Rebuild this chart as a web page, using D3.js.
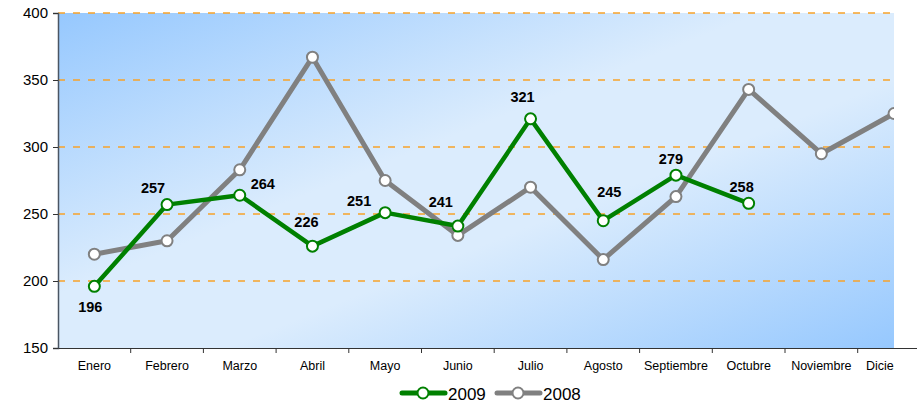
<!DOCTYPE html>
<html><head><meta charset="utf-8">
<script src="https://cdn.jsdelivr.net/npm/d3@7"></script>
<style>body{margin:0;background:#fff;} svg{display:block;font-family:"Liberation Sans",Arial,sans-serif;}</style>
</head><body>
<svg id="c" width="917" height="408"></svg>
<script>
const categories = ["Enero","Febrero","Marzo","Abril","Mayo","Junio","Julio","Agosto","Septiembre","Octubre","Noviembre","Diciembre"];
const values2009 = [196,257,264,226,251,241,321,245,279,258];
const values2008 = [220,230,283,367,275,234,270,216,263,343,295,325];
const yTicks = [150,200,250,300,350,400];
const seriesNames = ["2009","2008"];
// label nudges (layout only), in px relative to point
const labelNudge = [[-4,21],[-14,-17],[23,-11],[-6,-24],[-26,-12],[-17,-24],[-8,-22],[6,-29],[-5,-16],[-7,-16]];

(function(){
const svg = d3.select("#c");
const pL = 58, pT = 13, pB = 348, clipRight = 894;
const x = d3.scaleBand().domain(categories).range([pL, pL + 72.7*12]);
const y = d3.scaleLinear().domain([150,400]).range([pB, pT]);

const defs = svg.append("defs");
const g = defs.append("linearGradient").attr("id","bg").attr("x1",0).attr("y1",0).attr("x2",1).attr("y2",1);
g.append("stop").attr("offset",0).attr("stop-color","#96C8FE");
g.append("stop").attr("offset",0.42).attr("stop-color","#DBECFD");
g.append("stop").attr("offset",0.6).attr("stop-color","#DBECFD");
g.append("stop").attr("offset",1).attr("stop-color","#96C8FE");
defs.append("clipPath").attr("id","pc").append("rect")
  .attr("x",pL).attr("y",pT-8).attr("width",clipRight-pL).attr("height",pB-pT+16);
defs.append("clipPath").attr("id","xc").append("rect")
  .attr("x",0).attr("y",0).attr("width",clipRight).attr("height",60);

svg.append("rect").attr("x",pL).attr("y",pT).attr("width",clipRight-pL).attr("height",pB-pT).attr("fill","url(#bg)");

// gridlines
svg.append("g").selectAll("line").data(yTicks.filter(d=>d>150)).join("line")
  .attr("x1",pL).attr("x2",clipRight).attr("y1",d=>y(d)).attr("y2",d=>y(d))
  .attr("stroke","#F7A32A").attr("stroke-width",1.3).attr("stroke-dasharray","7,8");

// y axis
const ya = svg.append("g").attr("transform",`translate(${pL},0)`)
  .call(d3.axisLeft(y).tickValues(yTicks).tickSize(5).tickPadding(5));
ya.select(".domain").attr("stroke","#4a5563").attr("stroke-width",1.5);
ya.selectAll(".tick line").attr("stroke","#333");
ya.selectAll("text").attr("font-size",15).attr("fill","#000").attr("font-family","Liberation Sans, Arial, sans-serif");

// x axis
const xa = svg.append("g").attr("transform",`translate(0,${pB})`)
  .call(d3.axisBottom(x).tickSize(0).tickPadding(13));
xa.select(".domain").attr("stroke","#333").attr("stroke-width",1);
xa.selectAll("text").attr("font-size",12.5).attr("fill","#000").attr("font-family","Liberation Sans, Arial, sans-serif");
// clip tick labels to the plot's right edge, as in the reference
const tickHolder = xa.append("g").attr("clip-path","url(#xc)");
xa.selectAll(".tick").each(function(){ tickHolder.node().appendChild(this); });
svg.append("g").selectAll("line").data(categories.slice(1)).join("line")
  .attr("x1",d=>x(d)).attr("x2",d=>x(d)).attr("y1",pB).attr("y2",pB+5).attr("stroke","#333");

const cx = (d,i)=>x(categories[i]) + x.bandwidth()/2;
const plot = svg.append("g").attr("clip-path","url(#pc)");
const series = [
  {name:seriesNames[0], vals:values2009, color:"#008000", w:4.5},
  {name:seriesNames[1], vals:values2008, color:"#808080", w:5}
];
series.slice().reverse().forEach(s=>{
  plot.append("path").datum(s.vals)
    .attr("d", d3.line().x(cx).y(d=>y(d)))
    .attr("fill","none").attr("stroke",s.color).attr("stroke-width",s.w).attr("stroke-linejoin","round");
});
series.slice().reverse().forEach(s=>{
  plot.append("g").selectAll("circle").data(s.vals).join("circle")
    .attr("cx",cx).attr("cy",d=>y(d)).attr("r",5.5)
    .attr("fill","#fff").attr("stroke",s.color).attr("stroke-width",2);
});

// labels for 2009
svg.append("g").selectAll("text").data(values2009).join("text")
  .attr("x",(d,i)=>cx(d,i)+labelNudge[i][0]).attr("y",(d,i)=>y(d)+labelNudge[i][1])
  .attr("text-anchor","middle").attr("dominant-baseline","central")
  .attr("font-size",14.5).attr("font-weight","bold").attr("fill","#000").text(d=>d);

// legend
const leg = svg.append("g");
const legItems = [{x:400, s:series[0]},{x:495, s:series[1]}];
legItems.forEach(it=>{
  leg.append("line").attr("x1",it.x+2).attr("x2",it.x+45).attr("y1",393).attr("y2",393)
    .attr("stroke",it.s.color).attr("stroke-width",5).attr("stroke-linecap","round");
  leg.append("circle").attr("cx",it.x+23).attr("cy",393).attr("r",5.5).attr("fill","#fff").attr("stroke",it.s.color).attr("stroke-width",2);
  leg.append("text").attr("x",it.x+48).attr("y",394).attr("dominant-baseline","central")
    .attr("font-size",17).attr("fill","#000").text(it.s.name);
});
})();
</script>
</body></html>
